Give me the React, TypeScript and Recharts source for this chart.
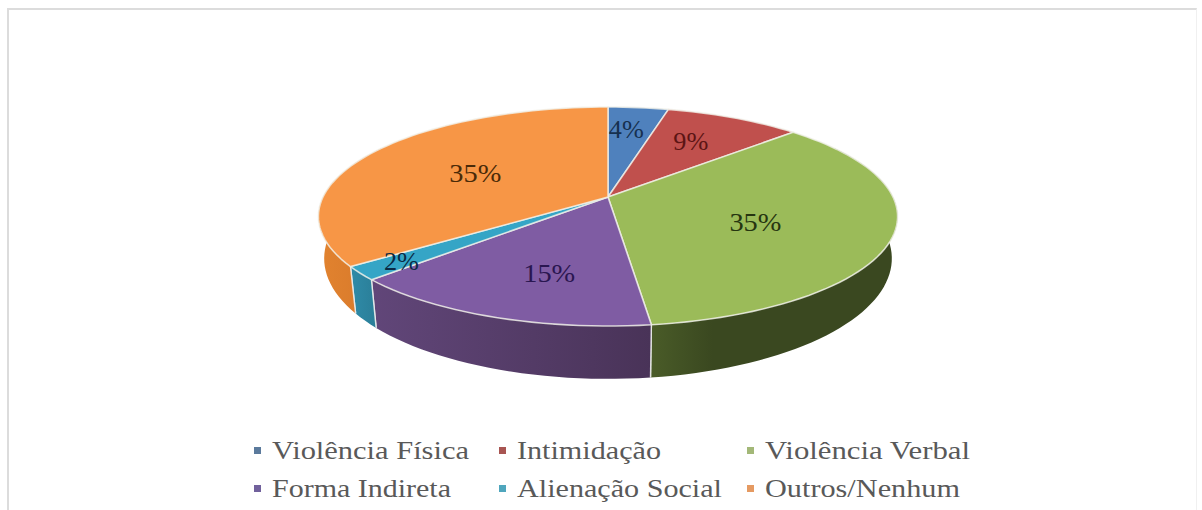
import React from "react";
import { PieChart, Pie, Legend } from "recharts";

// Share of each form of violence, in percent.
const categories = [
  "Violência Física",
  "Intimidação",
  "Violência Verbal",
  "Forma Indireta",
  "Alienação Social",
  "Outros/Nenhum",
];
const shares = [4, 9, 35, 15, 2, 35];

const topColors = ["#4f81bd", "#c0504d", "#9bbb59", "#7f5ca3", "#35a5c6", "#f79646"];
const wallFrom = ["#3c6391", "#943c39", "#4a5c28", "#614679", "#2f8ba8", "#e2832f"];
const wallTo = ["#2f4e73", "#752f2d", "#3a4820", "#493358", "#2a7e98", "#d5772a"];
const labelColors = ["#16304f", "#5c1414", "#263510", "#2a1650", "#0a2a44", "#4a2a08"];
const legendColors = ["#5b7a9c", "#a85552", "#a3b878", "#71619c", "#4fa6bd", "#e59a62"];

// Where each value label sits: along the radius, then a small hand adjustment.
const labelReach = [0.7, 0.65, 0.56, 0.62, 0.85, 0.52];
const labelShiftX = [-4, -3, -8, 8, 0, -6];
const labelShiftY = [-2, -2, 4, 7, 0, 0];

const rows = categories.map((name, i) => ({
  name,
  value: shares[i],
  fill: topColors[i],
}));

const CX = 608;
const CY = 197;
const RADIUS = 285;
const TILT = 0.372;
const PERSPECTIVE = 0.178;

// Projects a point of the flat disc onto the tilted disc; clock is measured clockwise from 12 o'clock.
function project(clock: number, reach: number, cx = CX, cy = CY, r = RADIUS) {
  const rad = (clock * Math.PI) / 180;
  const u = Math.sin(rad) * reach;
  const v = -Math.cos(rad) * reach;
  const d = 1 - PERSPECTIVE * v;
  return { x: cx + (r * u) / d, y: cy + (r * TILT * v) / d };
}

// The lower rim of the disc sits slightly inward and further down the nearer it is to the viewer.
function lower(p: { x: number; y: number }, cx: number, cy: number) {
  return { x: cx + (p.x - cx) * 0.98, y: p.y + 40 + (p.y - cy) * 0.1 };
}

function arcPoints(from: number, to: number, cx: number, cy: number, r: number) {
  const steps = Math.max(2, Math.ceil(Math.abs(to - from) / 2));
  const pts = [];
  for (let i = 0; i <= steps; i += 1) {
    pts.push(project(from + ((to - from) * i) / steps, 1, cx, cy, r));
  }
  return pts;
}

const toPath = (pts: { x: number; y: number }[]) =>
  pts.map((p, i) => `${i ? "L" : "M"}${p.x.toFixed(2)} ${p.y.toFixed(2)}`).join(" ");

function TopFace(props: any) {
  const { cx, cy, outerRadius, startAngle, endAngle, fill } = props;
  const rim = arcPoints(90 - startAngle, 90 - endAngle, cx, cy, outerRadius);
  return (
    <path
      d={`M${cx} ${cy} ${toPath(rim).replace("M", "L")} Z`}
      fill={fill}
      stroke="#f1f1ea"
      strokeOpacity={0.8}
      strokeWidth={1.6}
      strokeLinejoin="round"
    />
  );
}

function SideWall(props: any) {
  const { cx, cy, outerRadius, startAngle, endAngle, index } = props;
  const from = Math.max(90 - startAngle, 60);
  const to = Math.min(90 - endAngle, 300);
  if (to <= from) return null;
  const rim = arcPoints(from, to, cx, cy, outerRadius);
  const base = rim.map((p) => lower(p, cx, cy)).reverse();
  const edges = [90 - startAngle, 90 - endAngle].filter((a) => a > 100 && a < 260);
  return (
    <g>
      <defs>
        <linearGradient id={`wall-${index}`} x1="0" y1="0" x2="1" y2="0">
          <stop offset="0" stopColor={wallFrom[index]} />
          <stop offset={index === 2 ? "0.25" : "1"} stopColor={wallTo[index]} />
        </linearGradient>
      </defs>
      <path d={`${toPath(rim)} ${toPath(base).replace("M", "L")} Z`} fill={`url(#wall-${index})`} />
      {edges.map((a) => {
        const top = project(a, 1, cx, cy, outerRadius);
        const bottom = lower(top, cx, cy);
        return (
          <line
            key={a}
            x1={top.x}
            y1={top.y}
            x2={bottom.x}
            y2={bottom.y}
            stroke="#eef0ee"
            strokeOpacity={0.85}
            strokeWidth={1.4}
          />
        );
      })}
    </g>
  );
}

function ValueLabel(props: any) {
  const { cx, cy, outerRadius, midAngle, index, value } = props;
  const p = project(90 - midAngle, labelReach[index], cx, cy, outerRadius);
  const text = `${value}%`;
  return (
    <text
      x={p.x + labelShiftX[index]}
      y={p.y + labelShiftY[index]}
      dy={9}
      textAnchor="middle"
      fontFamily="Liberation Serif"
      fontSize={25}
      fill={labelColors[index]}
      textLength={text.length === 3 ? 52 : 35}
      lengthAdjust="spacingAndGlyphs"
    >
      {text}
    </text>
  );
}

// Legend layout: three columns over two rows, with the names drawn wide.
const legendColumns = [272, 517, 765];
const legendBaselines = [29, 67];
const legendWidths = [197, 144, 205, 179, 205, 195];

function LegendBlock() {
  return (
    <svg width={1202} height={80} style={{ display: "block" }}>
      {categories.map((name, i) => {
        const x = legendColumns[i % 3];
        const y = legendBaselines[Math.floor(i / 3)];
        return (
          <g key={name}>
            <rect x={x - 18} y={y - 12} width={7} height={7} fill={legendColors[i]} />
            <text
              x={x}
              y={y}
              fontFamily="Liberation Serif"
              fontSize={25}
              fill="#595959"
              textLength={legendWidths[i]}
              lengthAdjust="spacingAndGlyphs"
            >
              {name}
            </text>
          </g>
        );
      })}
    </svg>
  );
}

export default function App() {
  return (
    <div
      style={{
        position: "absolute",
        left: 0,
        top: 0,
        width: 1202,
        height: 510,
        overflow: "hidden",
        background: "#fff",
      }}
    >
      <div
        style={{
          position: "absolute",
          left: 7,
          top: 8,
          width: 1190,
          height: 502,
          boxSizing: "border-box",
          borderTop: "2px solid #dcdcdc",
          borderLeft: "2px solid #dcdcdc",
          borderRight: "1px solid #f0f0f0",
        }}
      />
      <div style={{ position: "absolute", left: 0, top: 0 }}>
        <PieChart width={1202} height={510} margin={{ top: 0, right: 0, bottom: 0, left: 0 }}>
          <Pie
            data={rows}
            dataKey="value"
            nameKey="name"
            cx={CX}
            cy={CY}
            outerRadius={RADIUS}
            startAngle={90}
            endAngle={-270}
            legendType="none"
            shape={SideWall}
            stroke="none"
            isAnimationActive={false}
          />
          <Pie
            data={rows}
            dataKey="value"
            nameKey="name"
            cx={CX}
            cy={CY}
            outerRadius={RADIUS}
            startAngle={90}
            endAngle={-270}
            shape={TopFace}
            label={ValueLabel}
            labelLine={false}
            isAnimationActive={false}
          />
          <Legend
            content={<LegendBlock />}
            wrapperStyle={{ position: "absolute", left: 0, top: 430, width: 1202, height: 80 }}
          />
        </PieChart>
      </div>
    </div>
  );
}
